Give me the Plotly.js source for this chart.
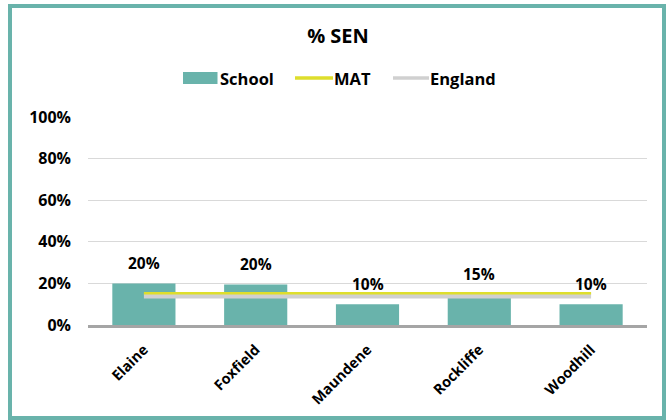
<!DOCTYPE html>
<html>
<head>
<meta charset="utf-8">
<script src="https://cdn.plot.ly/plotly-3.0.1.min.js"></script>
<style>
html,body{margin:0;padding:0;background:#fff;}
#chart{width:667px;height:420px;}
</style>
</head>
<body>
<div id="chart"></div>
<script>
// ---- data ----
const categories = ["Elaine", "Foxfield", "Maundene", "Rockliffe", "Woodhill"];
const schoolValues = [0.20, 0.195, 0.10, 0.15, 0.10];
const schoolLabels = ["20%", "20%", "10%", "15%", "10%"];
const matValues = [0.153, 0.153, 0.153, 0.153, 0.153];
const englandValues = [0.140, 0.140, 0.140, 0.140, 0.140];
const seriesNames = ["School", "MAT", "England"];
const yTickVals = [0, 0.2, 0.4, 0.6, 0.8, 1.0];
const yTickText = ["0%", "20%", "40%", "60%", "80%", "100%"];

// ---- style ----
const TEAL = "#69B3AB";
const YELLOW = "#DEDE2C";
const GREY = "#D0D0D0";
const FONT = "Open Sans, Noto Sans, sans-serif";

const W = 667, H = 420;
const M = {l: 88, r: 20, t: 117, b: 95};
const pw = W - M.l - M.r, ph = H - M.t - M.b;
const px = x => (x - M.l) / pw;
const py = y => (H - M.b - y) / ph;

const traces = [
  {type: "bar", x: categories, y: schoolValues, name: seriesNames[0],
   marker: {color: TEAL}, hoverinfo: "skip", showlegend: false},
  {type: "scatter", mode: "lines", x: categories, y: englandValues, name: seriesNames[2],
   line: {color: GREY, width: 5}, hoverinfo: "skip", showlegend: false},
  {type: "scatter", mode: "lines", x: categories, y: matValues, name: seriesNames[1],
   line: {color: YELLOW, width: 2.6}, hoverinfo: "skip", showlegend: false}
];

const annotations = categories.map((c, i) => ({
  x: c, y: schoolValues[i], xref: "x", yref: "y", text: schoolLabels[i],
  showarrow: false, yanchor: "bottom", yshift: 7,
  font: {family: FONT, size: 15.5, color: "#000", weight: 700}
}));

// custom legend
const legendY = 78;
const legendItems = [
  {name: seriesNames[0], kind: "box", x0: 183, x1: 217.5, tx: 218},
  {name: seriesNames[1], kind: "line", color: YELLOW, x0: 295, x1: 333, tx: 332},
  {name: seriesNames[2], kind: "line", color: GREY, x0: 393, x1: 429, tx: 428}
];
const shapes = [];
legendItems.forEach(it => {
  if (it.kind === "box") {
    shapes.push({type: "rect", xref: "paper", yref: "paper",
      x0: px(it.x0), x1: px(it.x1), y0: py(legendY + 6), y1: py(legendY - 6),
      fillcolor: TEAL, line: {width: 0}});
  } else {
    shapes.push({type: "line", xref: "paper", yref: "paper",
      x0: px(it.x0), x1: px(it.x1), y0: py(legendY), y1: py(legendY),
      line: {color: it.color, width: 3.5}});
  }
  annotations.push({xref: "paper", yref: "paper", x: px(it.tx), y: py(legendY),
    xanchor: "left", yanchor: "middle", showarrow: false, text: it.name,
    font: {family: FONT, size: 16.5, color: "#000", weight: 700}});
});
// outer frame
shapes.push({type: "rect", xref: "paper", yref: "paper",
  x0: px(10), x1: px(664), y0: py(418), y1: py(6),
  line: {color: TEAL, width: 4}, fillcolor: "rgba(0,0,0,0)", layer: "above"});

const layout = {
  width: W, height: H,
  margin: M,
  paper_bgcolor: "#fff", plot_bgcolor: "#fff",
  title: {text: "% SEN", x: 338 / W, xref: "container", y: 1 - 36 / H, yref: "container",
    xanchor: "center", yanchor: "middle",
    font: {family: FONT, size: 20, color: "#000", weight: 700}},
  showlegend: false,
  bargap: 0.435,
  xaxis: {type: "category", showgrid: false, showline: true, linecolor: "#A5A5A5", linewidth: 2.5,
    tickangle: -45, ticks: "", ticklabelstandoff: 8,
    tickfont: {family: FONT, size: 14.5, color: "#000", weight: 700},
    zeroline: false, fixedrange: true},
  yaxis: {range: [0, 1], tickvals: yTickVals, ticktext: yTickText, showgrid: true,
    gridcolor: "#D9D9D9", gridwidth: 1, zeroline: false, showline: false, ticks: "",
    ticklabelstandoff: 16,
    tickfont: {family: FONT, size: 16, color: "#000", weight: 700}, fixedrange: true},
  shapes: shapes,
  annotations: annotations
};

Plotly.newPlot("chart", traces, layout, {displayModeBar: false, staticPlot: true});
</script>
</body>
</html>
